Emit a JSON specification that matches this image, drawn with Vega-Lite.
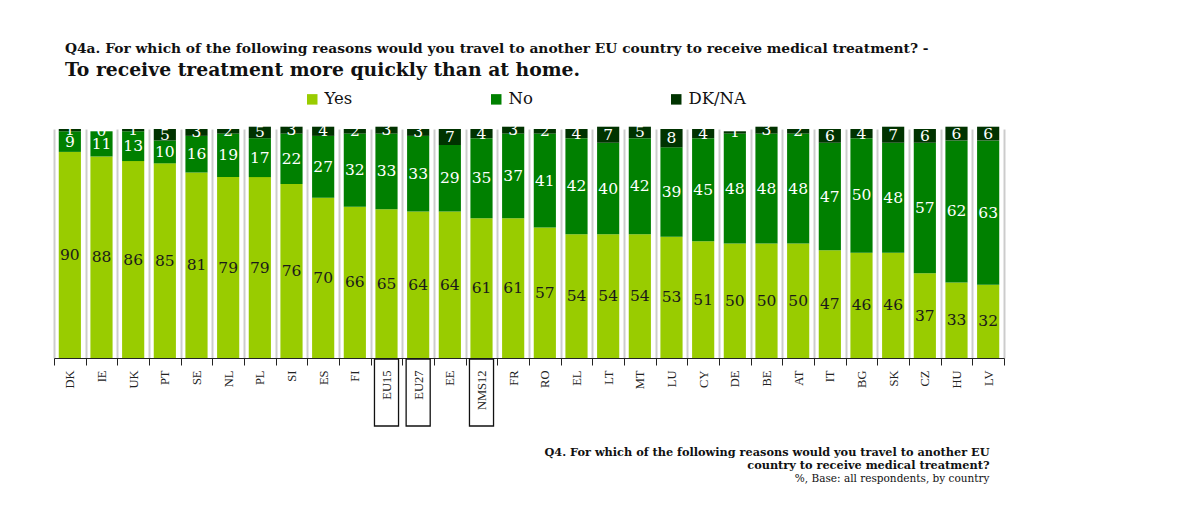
{
  "$schema": "https://vega.github.io/schema/vega-lite/v6.json",
  "width": 950,
  "height": 229,
  "padding": {"left": 48, "top": 42, "right": 10, "bottom": 10},
  "background": "white",
  "config": {"view": {"stroke": null}},
  "title": {
    "text": "Q4a. For which of the following reasons would you travel to another EU country to receive medical treatment? -",
    "subtitle": "To receive treatment more quickly than at home.",
    "anchor": "start",
    "dx": 17,
    "offset": 11,
    "font": "DejaVu Serif",
    "fontSize": 13.8,
    "fontWeight": "bold",
    "color": "#111111",
    "subtitleFont": "DejaVu Serif",
    "subtitleFontSize": 18.8,
    "subtitleFontWeight": "bold",
    "subtitleColor": "#111111",
    "subtitlePadding": 5
  },
  "data": {
    "values": [
      {"country": "DK", "Yes": 90, "No": 9, "DK/NA": 1},
      {"country": "IE", "Yes": 88, "No": 11, "DK/NA": 0},
      {"country": "UK", "Yes": 86, "No": 13, "DK/NA": 1},
      {"country": "PT", "Yes": 85, "No": 10, "DK/NA": 5},
      {"country": "SE", "Yes": 81, "No": 16, "DK/NA": 3},
      {"country": "NL", "Yes": 79, "No": 19, "DK/NA": 2},
      {"country": "PL", "Yes": 79, "No": 17, "DK/NA": 5},
      {"country": "SI", "Yes": 76, "No": 22, "DK/NA": 3},
      {"country": "ES", "Yes": 70, "No": 27, "DK/NA": 4},
      {"country": "FI", "Yes": 66, "No": 32, "DK/NA": 2},
      {"country": "EU15", "Yes": 65, "No": 33, "DK/NA": 3},
      {"country": "EU27", "Yes": 64, "No": 33, "DK/NA": 3},
      {"country": "EE", "Yes": 64, "No": 29, "DK/NA": 7},
      {"country": "NMS12", "Yes": 61, "No": 35, "DK/NA": 4},
      {"country": "FR", "Yes": 61, "No": 37, "DK/NA": 3},
      {"country": "RO", "Yes": 57, "No": 41, "DK/NA": 2},
      {"country": "EL", "Yes": 54, "No": 42, "DK/NA": 4},
      {"country": "LT", "Yes": 54, "No": 40, "DK/NA": 7},
      {"country": "MT", "Yes": 54, "No": 42, "DK/NA": 5},
      {"country": "LU", "Yes": 53, "No": 39, "DK/NA": 8},
      {"country": "CY", "Yes": 51, "No": 45, "DK/NA": 4},
      {"country": "DE", "Yes": 50, "No": 48, "DK/NA": 1},
      {"country": "BE", "Yes": 50, "No": 48, "DK/NA": 3},
      {"country": "AT", "Yes": 50, "No": 48, "DK/NA": 2},
      {"country": "IT", "Yes": 47, "No": 47, "DK/NA": 6},
      {"country": "BG", "Yes": 46, "No": 50, "DK/NA": 4},
      {"country": "SK", "Yes": 46, "No": 48, "DK/NA": 7},
      {"country": "CZ", "Yes": 37, "No": 57, "DK/NA": 6},
      {"country": "HU", "Yes": 33, "No": 62, "DK/NA": 6},
      {"country": "LV", "Yes": 32, "No": 63, "DK/NA": 6}
    ]
  },
  "transform": [
    {"fold": ["Yes", "No", "DK/NA"], "as": ["answer", "value"]},
    {"stack": "value", "groupby": ["country"], "sort": [{"field": "answer", "order": "descending"}], "as": ["v0", "v1"]},
    {"calculate": "(datum.v0 + datum.v1) / 2", "as": "mid"}
  ],
  "encoding": {
    "x": {
      "field": "country",
      "type": "nominal",
      "sort": null,
      "scale": {"paddingInner": 0, "paddingOuter": 0},
      "axis": {
        "title": ["Q4. For which of the following reasons would you travel to another EU", "country to receive medical treatment?"],
        "titleFont": "DejaVu Serif",
        "titleFontSize": 11.3,
        "titleFontWeight": "bold",
        "titleColor": "#111111",
        "titleAlign": "right",
        "titleBaseline": "top",
        "titleX": 935,
        "titleY": 88,
        "titleLineHeight": 13,
        "labelAngle": 270,
        "labelFont": "Liberation Serif",
        "labelFontSize": 12.5,
        "labelColor": "#222222",
        "labelPadding": 5,
        "tickBand": "extent",
        "ticks": true,
        "tickSize": 7,
        "tickColor": "#222222",
        "domainColor": "#222222",
        "grid": true,
        "gridColor": "#cccccc",
        "gridWidth": 2
      }
    }
  },
  "layer": [
    {
      "mark": {"type": "bar", "width": {"band": 0.7}, "clip": false},
      "encoding": {
        "y": {
          "field": "v0",
          "type": "quantitative",
          "scale": {"domain": [0, 100], "nice": false},
          "axis": {
            "title": "%, Base: all respondents, by country",
            "labels": false,
            "ticks": false,
            "domain": false,
            "grid": false,
            "titleAngle": 0,
            "titleX": 935,
            "titleY": 344,
            "titleAlign": "right",
            "titleBaseline": "top",
            "titleFont": "DejaVu Serif",
            "titleFontWeight": "normal",
            "titleFontSize": 10.5,
            "titleColor": "#111111"
          }
        },
        "y2": {"field": "v1"},
        "color": {
          "field": "answer",
          "type": "nominal",
          "scale": {"domain": ["Yes", "No", "DK/NA"], "range": ["#99cc00", "#008000", "#003300"]},
          "legend": {
            "orient": "none",
            "legendX": 250,
            "legendY": -38,
            "direction": "horizontal",
            "title": null,
            "symbolType": "square",
            "symbolSize": 110,
            "symbolStrokeWidth": 0,
            "labelFont": "DejaVu Serif",
            "labelFontSize": 16.5,
            "labelColor": "#111111",
            "columnPadding": 135,
            "labelOffset": 4
          }
        }
      }
    },
    {
      "mark": {"type": "text", "font": "DejaVu Serif", "fontSize": 15.5, "baseline": "middle", "align": "center"},
      "encoding": {
        "y": {
          "field": "mid",
          "type": "quantitative",
          "axis": {
            "title": "%, Base: all respondents, by country",
            "labels": false,
            "ticks": false,
            "domain": false,
            "grid": false,
            "titleAngle": 0,
            "titleX": 935,
            "titleY": 344,
            "titleAlign": "right",
            "titleBaseline": "top",
            "titleFont": "DejaVu Serif",
            "titleFontWeight": "normal",
            "titleFontSize": 10.5,
            "titleColor": "#111111"
          }
        },
        "text": {"field": "value", "type": "quantitative"},
        "color": {
          "condition": {"test": "datum.answer === 'Yes'", "value": "#1a1a1a"},
          "value": "#ffffff"
        }
      }
    },
    {
      "transform": [
        {"filter": "datum.answer === 'Yes' && (datum.country === 'EU15' || datum.country === 'EU27' || datum.country === 'NMS12')"}
      ],
      "mark": {"type": "bar", "width": {"band": 0.76}, "filled": false, "stroke": "#111111", "strokeWidth": 1.3, "clip": false, "yOffset": 1, "y2Offset": 68},
      "encoding": {
        "y": {
          "datum": 0,
          "type": "quantitative",
          "axis": {
            "title": "%, Base: all respondents, by country",
            "labels": false,
            "ticks": false,
            "domain": false,
            "grid": false,
            "titleAngle": 0,
            "titleX": 935,
            "titleY": 344,
            "titleAlign": "right",
            "titleBaseline": "top",
            "titleFont": "DejaVu Serif",
            "titleFontWeight": "normal",
            "titleFontSize": 10.5,
            "titleColor": "#111111"
          }
        },
        "y2": {"datum": 0}
      }
    }
  ]
}
